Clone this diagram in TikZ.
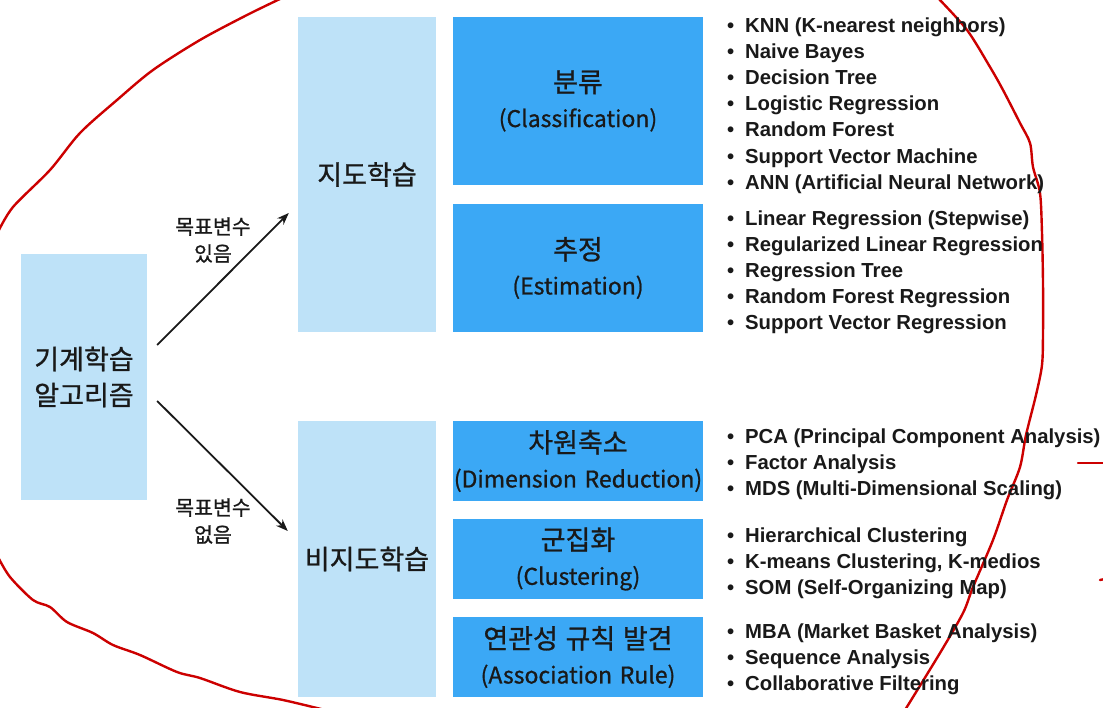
\documentclass[tikz,border=0pt]{standalone}
\usepackage{fontspec}
\setmainfont{Liberation Sans}
\newfontfamily\kr[FakeBold=0.9]{Noto Sans CJK KR}
\usetikzlibrary{arrows.meta,calc}
\definecolor{lightb}{RGB}{190,226,248}
\definecolor{darkb}{RGB}{59,168,245}
\definecolor{redline}{RGB}{204,0,0}
\definecolor{ink}{RGB}{25,25,25}
\newcommand{\hk}[1]{{\fontsize{27}{35}\selectfont #1}}
\begin{document}
\begin{tikzpicture}[x=1pt,y=-1pt,
  lbox/.style={fill=lightb, draw=none, inner sep=0pt, text=ink, align=center, font=\kr\fontsize{27}{36}\selectfont},
  dbox/.style={fill=darkb, draw=none, inner sep=0pt, text=ink, align=center, text width=250pt, minimum width=250pt, font=\kr\fontsize{23}{35}\selectfont},
  lbl/.style={font=\kr\fontsize{20.5}{27}\selectfont, align=center, text=ink, inner sep=0pt},
  item/.style={anchor=base west, font=\bfseries\fontsize{20.3}{26.2}\selectfont, inner sep=0pt, text=ink},
  arr/.style={-{Stealth[length=12pt,width=9pt]}, line width=1.8pt, draw=ink},
  redc/.style={draw=redline, line width=2.4pt, line cap=round, line join=round}]
\useasboundingbox (0,0) rectangle (1103,707);
\begin{scope}
\clip (0,0) rectangle (1103,707);
% red hand-drawn curve
\draw[redc] plot[smooth] coordinates {(282,-2) (247,15) (200,40) (153,70) (117,100) (80,133) (50,170) (13,207) (-2,232)};
\draw[redc] plot[smooth] coordinates {(938,-2) (967,30) (990,67) (1003,90) (1020,123) (1030,143) (1033,167) (1040,193) (1042,233) (1043,283) (1043,333) (1042,365) (1036,395) (1026,435) (1020,467) (1007,500) (993,540) (973,587) (963,613) (940,653) (905,710)};
\draw[redc] plot[smooth] coordinates {(-2,557) (10,577) (33,600) (50,607) (67,622) (93,633) (113,645) (140,655) (177,672) (200,678) (240,692) (283,700) (325,710)};
\draw[redc] (1078,463) -- (1105,463);
\draw[redc] (1100,580) -- (1105,579);
\end{scope}

% boxes
\node[lbox, minimum width=126pt, minimum height=246pt] (algo) at (84,377) {기계학습\\알고리즘};
\node[lbox, minimum width=138pt, minimum height=315pt] (sup) at (367,174.5) {지도학습};
\node[lbox, minimum width=138pt, minimum height=276pt] (unsup) at (367,559) {비지도학습};

\node[dbox, minimum height=168pt] (cls) at (578,101) {\hk{분류}\\(Classification)};
\node[dbox, minimum height=128pt] (est) at (578,268) {\hk{추정}\\(Estimation)};
\node[dbox, minimum height=80pt] (dim) at (578,461) {\hk{차원축소}\\(Dimension Reduction)};
\node[dbox, minimum height=80pt] (clu) at (578,559) {\hk{군집화}\\(Clustering)};
\node[dbox, minimum height=80pt] (asc) at (578,657) {\hk{연관성 규칙 발견}\\(Association Rule)};

% arrows
\coordinate (a1s) at ($(algo.east)+(10,-32)$);
\coordinate (a1e) at ($(sup.west)+(-9,38.5)$);
\coordinate (a2s) at ($(algo.east)+(10,24)$);
\coordinate (a2e) at ($(unsup.west)+(-10,-28)$);
\draw[arr] (a1s) -- (a1e);
\draw[arr] (a2s) -- (a2e);
\node[lbl] (l1) at (213,240) {목표변수\\있음};
\node[lbl] (l2) at (213,521) {목표변수\\없음};

% lists
\foreach \t [count=\i] in {KNN (K-nearest neighbors), Naive Bayes, Decision Tree, Logistic Regression, Random Forest, Support Vector Machine, ANN (Artificial Neural Network)}
  \node[item] (ca\i) at (727,{32+26.2*(\i-1)}) {\makebox[18pt][l]{•}\t};
\foreach \t [count=\i] in {Linear Regression (Stepwise), Regularized Linear Regression, Regression Tree, Random Forest Regression, Support Vector Regression}
  \node[item] (cb\i) at (727,{225+26.2*(\i-1)}) {\makebox[18pt][l]{•}\t};
\foreach \t [count=\i] in {PCA (Principal Component Analysis), Factor Analysis, MDS (Multi-Dimensional Scaling)}
  \node[item] (cc\i) at (727,{443+26*(\i-1)}) {\makebox[18pt][l]{•}\t};
\foreach \t [count=\i] in {Hierarchical Clustering, {K-means Clustering, K-medios}, SOM (Self-Organizing Map)}
  \node[item] (cd\i) at (727,{542+26*(\i-1)}) {\makebox[18pt][l]{•}\t};
\foreach \t [count=\i] in {MBA (Market Basket Analysis), Sequence Analysis, Collaborative Filtering}
  \node[item] (ce\i) at (727,{638+26*(\i-1)}) {\makebox[18pt][l]{•}\t};
\end{tikzpicture}
\end{document}
